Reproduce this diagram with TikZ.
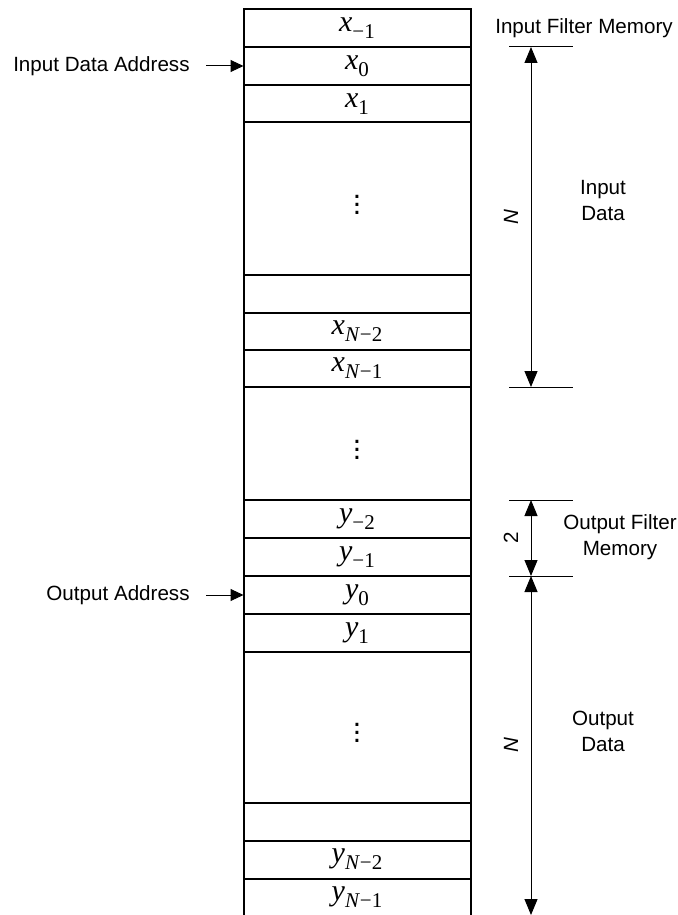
\documentclass[tikz,border=0pt]{standalone}
\usepackage{fontspec}
\setmainfont{Liberation Sans}
\newfontfamily\serif{Liberation Serif}
\newcommand{\mv}[2]{{\serif\itshape #1}\raisebox{-3.5pt}{\serif\fontsize{10.5}{11}\selectfont #2}}
\usetikzlibrary{arrows.meta}
\begin{document}
\begin{tikzpicture}[x=0.5pt, y=-0.5pt, >={Triangle[length=8pt,width=6.5pt]},
		cell/.style={draw, line width=1pt, outer sep=0pt, minimum width=113.5pt, minimum height=19pt, inner sep=0pt, font=\fontsize{15}{17}\selectfont},
		lbl/.style={font=\fontsize{10.3}{13}\selectfont, align=center, inner sep=0pt},
		addr/.style={lbl, anchor=east, inner xsep=8pt},
		tick/.style={line width=0.5pt},
		dim/.style={line width=0.5pt, <->}]
		\useasboundingbox (0,0) rectangle (678,915);
		\node[cell] (xm1) at (357,28) {\mv{x}{−1}};
		\node[cell] (x0) at (357,66) {\mv{x}{0}};
		\node[cell, minimum height=18.75pt] (x1) at (357,103.75) {\mv{x}{1}};
		\node[cell, minimum height=76.25pt] (gapA) at (357,198.75) {$\vdots$};
		\node[cell, minimum height=18.75pt] (blankA) at (357,293.75) {};
		\node[cell, minimum height=18.75pt] (xN2) at (357,331.25) {\mv{x}{\textit{N}−2}};
		\node[cell, minimum height=18.5pt] (xN1) at (357,368.5) {\mv{x}{\textit{N}−1}};
		\node[cell, minimum height=56.5pt] (gapB) at (357,443.5) {$\vdots$};
		\node[cell] (ym2) at (357,519) {\mv{y}{−2}};
		\node[cell] (ym1) at (357,557) {\mv{y}{−1}};
		\node[cell] (y0) at (357,595) {\mv{y}{0}};
		\node[cell, minimum height=18.75pt] (y1) at (357,632.75) {\mv{y}{1}};
		\node[cell, minimum height=75.5pt] (gapC) at (357,727) {$\vdots$};
		\node[cell] (blankB) at (357,821.5) {};
		\node[cell] (yN2) at (357,859.5) {\mv{y}{\textit{N}−2}};
		\node[cell, draw=none] (yN1) at (357,897) {\mv{y}{\textit{N}−1}};
		\coordinate (bot) at (0,915);
		\draw[line width=1pt] (yN2.south west) -- (yN2.south west |- bot);
		\draw[line width=1pt] (yN2.south east) -- (yN2.south east |- bot);

		\node[addr] (inaddr) at (206,66) {Input Data Address};
		\node[addr] (outaddr) at (206,595) {Output Address};
		\draw[->, >={Triangle[length=6.5pt,width=6pt]}, line width=0.5pt] (inaddr.east) -- (x0.west);
		\draw[->, >={Triangle[length=6.5pt,width=6pt]}, line width=0.5pt] (outaddr.east) -- (y0.west);

		\coordinate (ti1) at (509,47);
		\coordinate (ti2) at (509,387);
		\coordinate (ti3) at (509,500);
		\coordinate (ti4) at (509,576);
		\draw[tick] (ti1) -- ++(64,0);
		\draw[tick] (ti2) -- ++(64,0);
		\draw[tick] (ti3) -- ++(64,0);
		\draw[tick] (ti4) -- ++(64,0);
		\coordinate (da1) at (531,47);
		\coordinate (da2) at (531,387);
		\coordinate (db1) at (531,500);
		\coordinate (db2) at (531,576);
		\coordinate (dc2) at (531,915);
		\draw[dim] (da1) -- (da2);
		\draw[dim] (db1) -- (db2);
		\draw[dim] (db2) -- (dc2);

		\node[lbl, rotate=90] (nin) at (511,217) {\itshape N};
		\node[lbl, rotate=90] (ntwo) at (511,538) {2};
		\node[lbl, rotate=90] (nout) at (511,745) {\itshape N};
		\node[lbl] (infilt) at (584,28) {Input Filter Memory};
		\node[lbl] (indata) at (603,201) {Input\\Data};
		\node[lbl] (outfilt) at (620,537) {Output Filter\\Memory};
		\node[lbl] (outdata) at (603,731) {Output\\Data};
	\end{tikzpicture}
\end{document}
